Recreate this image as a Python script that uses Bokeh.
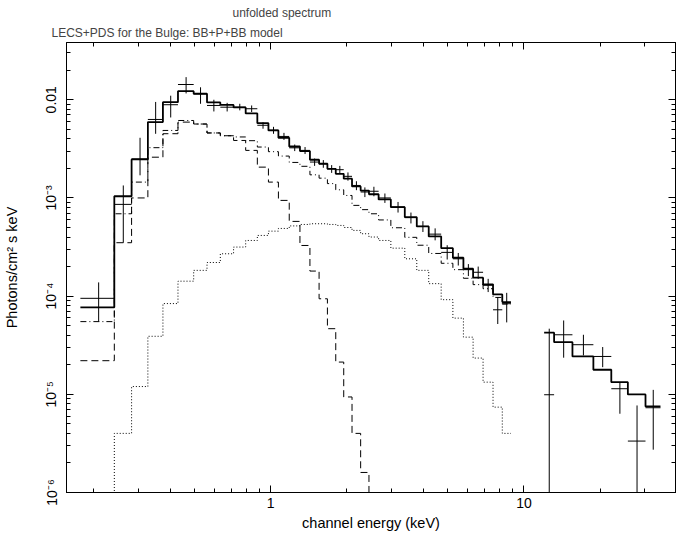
from bokeh.plotting import figure
from bokeh.models import Range1d, LogAxis, LogTicker, Title, CustomJSTickFormatter
from bokeh.embed import file_html
from bokeh.resources import INLINE

# ---------------- data ----------------
# LECS channel bin edges (keV)
lecs_edges = [0.177, 0.241, 0.282, 0.327, 0.375, 0.430, 0.496, 0.560, 0.632, 0.713,
              0.796, 0.885, 0.979, 1.072, 1.183, 1.304, 1.428, 1.552, 1.674, 1.806,
              1.942, 2.094, 2.265, 2.443, 2.667, 2.981, 3.384, 3.774, 4.207, 4.712,
              5.241, 5.768, 6.299, 6.897, 7.551, 8.214, 8.889]
# unfolded data points and their error limits (photons/cm^2 s keV)
lecs_flux = [9.5e-5, 8.6e-4, 2.5e-3, 6.3e-3, 8.9e-3, 1.43e-2, 1.15e-2, 8.75e-3, 8.4e-3, 8.4e-3,
             8.1e-3, 5.5e-3, 4.9e-3, 4.23e-3, 3.24e-3, 3.05e-3, 2.32e-3, 2.23e-3, 1.98e-3, 1.94e-3,
             1.66e-3, 1.34e-3, 1.15e-3, 1.17e-3, 1.0e-3, 8.1e-4, 6.3e-4, 5.13e-4, 4.28e-4, 2.79e-4,
             2.40e-4, 1.86e-4, 1.75e-4, 1.29e-4, 7.26e-5, 8.37e-5]
lecs_lo = [5.5e-5, 3.5e-4, 1.7e-3, 4.5e-3, 6.6e-3, 1.16e-2, 9.1e-3, 7.6e-3, 7.6e-3, 7.8e-3,
           7.5e-3, 5.07e-3, 4.5e-3, 3.9e-3, 3.0e-3, 2.8e-3, 2.12e-3, 2.03e-3, 1.80e-3, 1.76e-3,
           1.50e-3, 1.20e-3, 1.02e-3, 1.04e-3, 8.9e-4, 7.1e-4, 5.5e-4, 4.5e-4, 3.7e-4, 2.36e-4,
           2.05e-4, 1.6e-4, 1.5e-4, 1.1e-4, 5.2e-5, 5.4e-5]
lecs_hi = [1.38e-4, 1.34e-3, 4.1e-3, 9.5e-3, 1.1e-2, 1.70e-2, 1.34e-2, 1.0e-2, 9.3e-3, 9.1e-3,
           8.75e-3, 5.9e-3, 5.3e-3, 4.6e-3, 3.5e-3, 3.3e-3, 2.52e-3, 2.43e-3, 2.16e-3, 2.12e-3,
           1.82e-3, 1.48e-3, 1.28e-3, 1.30e-3, 1.11e-3, 9.1e-4, 7.1e-4, 5.8e-4, 4.9e-4, 3.3e-4,
           2.75e-4, 2.12e-4, 2.0e-4, 1.5e-4, 9.8e-5, 1.08e-4]
# model: total and components per LECS bin
lecs_total = [7.7e-5, 1.04e-3, 2.47e-3, 5.92e-3, 9.46e-3, 1.223e-2, 1.151e-2, 9.39e-3, 8.85e-3, 8.35e-3,
              7.25e-3, 5.78e-3, 4.87e-3, 4.10e-3, 3.34e-3, 3.0e-3, 2.45e-3, 2.23e-3, 1.98e-3, 1.76e-3,
              1.57e-3, 1.31e-3, 1.19e-3, 1.09e-3, 9.66e-4, 8.05e-4, 6.37e-4, 5.13e-4, 4.06e-4, 3.08e-4,
              2.46e-4, 1.90e-4, 1.54e-4, 1.32e-4, 1.04e-4, 8.7e-5]
lecs_powerlaw = [5.5e-5, 6.9e-4, 1.45e-3, 3.25e-3, 4.87e-3, 6.15e-3, 5.66e-3, 4.59e-3, 4.3e-3, 4.18e-3,
                 3.83e-3, 3.3e-3, 2.96e-3, 2.67e-3, 2.3e-3, 2.1e-3, 1.72e-3, 1.59e-3, 1.40e-3, 1.21e-3,
                 1.06e-3, 8.4e-4, 7.6e-4, 6.9e-4, 5.97e-4, 4.97e-4, 3.97e-4, 3.3e-4, 2.72e-4, 2.16e-4,
                 1.86e-4, 1.52e-4, 1.31e-4, 1.19e-4, 9.7e-5, 8.3e-5]
lecs_bb_soft = [2.2e-5, 3.5e-4, 1.0e-3, 2.6e-3, 4.51e-3, 5.92e-3, 5.66e-3, 4.59e-3, 4.3e-3, 3.85e-3,
                3.05e-3, 2.06e-3, 1.45e-3, 9.44e-4, 5.77e-4, 3.28e-4, 1.8e-4, 9.4e-5, 4.66e-5, 2.13e-5,
                9.4e-6, 4.0e-6, 1.6e-6, 1e-9, 1e-9, 1e-9, 1e-9, 1e-9, 1e-9, 1e-9,
                1e-9, 1e-9, 1e-9, 1e-9, 1e-9, 1e-9]
lecs_bb_hard = [1e-9, 4.0e-6, 1.2e-5, 3.9e-5, 8.4e-5, 1.42e-4, 1.83e-4, 2.2e-4, 2.7e-4, 3.16e-4,
                3.69e-4, 4.15e-4, 4.59e-4, 4.89e-4, 5.19e-4, 5.37e-4, 5.46e-4, 5.46e-4, 5.37e-4, 5.25e-4,
                5.0e-4, 4.67e-4, 4.32e-4, 4.0e-4, 3.69e-4, 3.08e-4, 2.40e-4, 1.83e-4, 1.34e-4, 9.2e-5,
                5.97e-5, 3.82e-5, 2.34e-5, 1.33e-5, 7.4e-6, 4.0e-6]

# PDS bins
pds_edges = [12.02, 13.16, 15.55, 18.81, 22.14, 25.74, 30.22, 34.63]
pds_flux = [9.9e-6, 4.04e-5, 3.2e-5, 2.43e-5, 1.14e-5, 3.34e-6, 7.3e-6]
pds_lo = [-2.7e-5, 2.36e-5, 2.49e-5, 1.89e-5, 6.34e-6, -1.0e-6, 2.73e-6]
pds_hi = [4.66e-5, 5.65e-5, 4.04e-5, 3.03e-5, 1.33e-5, 7.7e-6, 1.11e-5]
pds_total = [4.24e-5, 3.4e-5, 2.43e-5, 1.78e-5, 1.33e-5, 9.98e-6, 7.53e-6]

# axis ranges
x_min, x_max = 0.156, 39.7
y_min, y_max = 1e-6, 0.0383

FONT = "Liberation Sans"

p = figure(width=687, height=533, x_axis_type="log", y_axis_type="log",
           x_range=Range1d(x_min, x_max), y_range=Range1d(y_min, y_max),
           output_backend="svg", toolbar_location=None,
           min_border_left=64, min_border_right=12, min_border_top=42, min_border_bottom=41)
p.xgrid.visible = False
p.ygrid.visible = False
p.outline_line_color = "black"
p.background_fill_color = "white"
p.border_fill_color = "white"

fmt_js = """
const e = Math.round(Math.log10(tick));
if (e == -2) return "0.01";
if (e == 0) return "1";
if (e == 1) return "10";
const sup = {"-":"\u207b","0":"\u2070","1":"\u00b9","2":"\u00b2","3":"\u00b3","4":"\u2074","5":"\u2075","6":"\u2076","7":"\u2077","8":"\u2078","9":"\u2079"};
return "10" + String(e).split("").map(c => sup[c]).join("");
"""

def style_axis(ax, labels=True):
    ax.axis_line_color = "black"
    ax.axis_line_width = 1
    ax.major_tick_in = 7
    ax.major_tick_out = 0
    ax.minor_tick_in = 4
    ax.minor_tick_out = 0
    ax.major_tick_line_color = "black"
    ax.minor_tick_line_color = "black"
    ax.major_label_text_font = FONT
    ax.major_label_text_font_size = "14px"
    ax.major_label_text_color = "black"
    ax.axis_label_text_font = FONT
    ax.axis_label_text_font_size = "14.5px"
    ax.axis_label_text_font_style = "normal"
    ax.axis_label_text_color = "black"
    if labels:
        ax.formatter = CustomJSTickFormatter(code=fmt_js)
    else:
        ax.formatter = CustomJSTickFormatter(code="return '';")
        ax.major_label_standoff = 0

xa = p.xaxis[0]
xa.ticker = LogTicker(num_minor_ticks=10)
style_axis(xa)
xa.axis_label = "channel energy (keV)"
xa.major_label_standoff = 5
xa.axis_label_standoff = 4

ya = p.yaxis[0]
ya.ticker = LogTicker(num_minor_ticks=10)
style_axis(ya)
ya.axis_label = "Photons/cm\u00b2 s keV"
ya.major_label_orientation = "vertical"
ya.major_label_standoff = 7
ya.axis_label_standoff = 21

top_ax = LogAxis(ticker=LogTicker(num_minor_ticks=10))
style_axis(top_ax, labels=False)
top_ax.major_label_standoff = 3
p.add_layout(top_ax, "above")
right_ax = LogAxis(ticker=LogTicker(num_minor_ticks=10))
style_axis(right_ax, labels=False)
p.add_layout(right_ax, "right")

# titles: p.title is outermost
p.title.text = "unfolded spectrum"
p.title.align = "left"
p.title.offset = 166
p.title.text_font = FONT
p.title.text_font_size = "12px"
p.title.text_font_style = "normal"
p.title.standoff = 1
sub = Title(text="LECS+PDS for the Bulge: BB+P+BB model", align="left", offset=-15,
            text_font=FONT, text_font_size="12px", text_font_style="normal", standoff=6)
p.add_layout(sub, "above")

def step(edges, vals, **kw):
    p.step(x=list(edges), y=list(vals) + [vals[-1]], mode="after", **kw)

def crosses(edges, flux, lo, hi):
    x0 = edges[:-1]
    x1 = edges[1:]
    mid = [(a + b) / 2 for a, b in zip(x0, x1)]
    lo_c = [v if v > 0 else 1e-9 for v in lo]
    p.segment(x0=x0, x1=x1, y0=flux, y1=flux, line_color="black", line_width=1)
    p.segment(x0=mid, x1=mid, y0=lo_c, y1=hi, line_color="black", line_width=1)

# model components
step(lecs_edges, lecs_bb_hard, line_color="black", line_width=1, line_dash="1 2")
step(lecs_edges, lecs_bb_soft, line_color="black", line_width=1, line_dash="7 4")
step(lecs_edges, lecs_powerlaw, line_color="black", line_width=1, line_dash="6 3 1 3")
# total model
step(lecs_edges, lecs_total, line_color="black", line_width=1.8)
step(pds_edges, pds_total, line_color="black", line_width=1.8)
# data
crosses(lecs_edges, lecs_flux, lecs_lo, lecs_hi)
crosses(pds_edges, pds_flux, pds_lo, pds_hi)

open("out.html", "w").write(file_html(p, INLINE))
